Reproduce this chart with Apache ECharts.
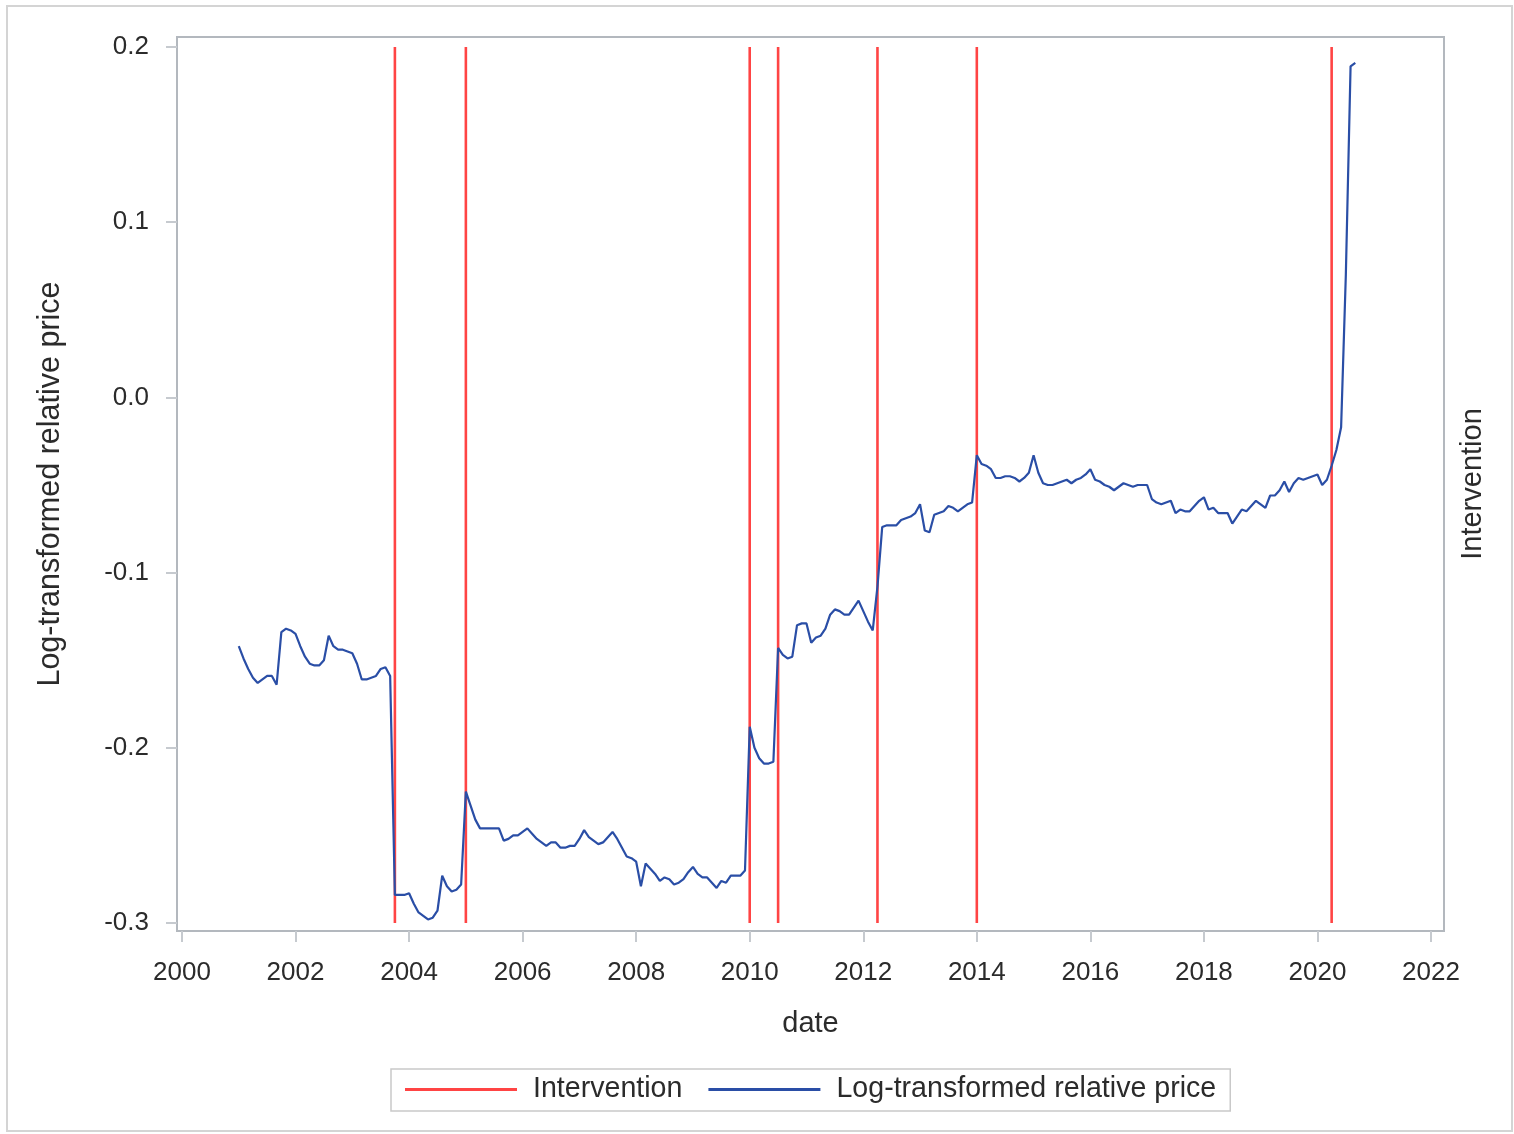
<!DOCTYPE html>
<html>
<head>
<meta charset="utf-8">
<title>Log-transformed relative price</title>
<script src="https://cdn.jsdelivr.net/npm/echarts@6/dist/echarts.min.js"></script>
<style>
  html, body { margin: 0; padding: 0; background: #ffffff; }
  #chart { width: 1514px; height: 1134px; }
</style>
</head>
<body>
<div id="chart"></div>
<script>
// ---- data -------------------------------------------------------------
const PRICE_NAME = 'Log-transformed relative price';
const INTERVENTION_NAME = 'Intervention';
const X_TITLE = 'date';

// monthly observations, first one is January 2001
const START_YEAR = 2001;
const logPrice = [
  // 2001
  -0.142, -0.149, -0.155, -0.160, -0.163, -0.161, -0.159, -0.159, -0.164, -0.134, -0.132, -0.133,
  // 2002
  -0.135, -0.142, -0.148, -0.152, -0.153, -0.153, -0.150, -0.136, -0.142, -0.144, -0.144, -0.145,
  // 2003
  -0.146, -0.152, -0.161, -0.161, -0.160, -0.159, -0.155, -0.154, -0.159, -0.284, -0.284, -0.284,
  // 2004
  -0.283, -0.289, -0.294, -0.296, -0.298, -0.297, -0.293, -0.273, -0.279, -0.282, -0.281, -0.278,
  // 2005
  -0.225, -0.233, -0.241, -0.246, -0.246, -0.246, -0.246, -0.246, -0.253, -0.252, -0.250, -0.250,
  // 2006
  -0.248, -0.246, -0.249, -0.252, -0.254, -0.256, -0.254, -0.254, -0.257, -0.257, -0.256, -0.256,
  // 2007
  -0.252, -0.247, -0.251, -0.253, -0.255, -0.254, -0.251, -0.248, -0.252, -0.257, -0.262, -0.263,
  // 2008
  -0.265, -0.279, -0.266, -0.269, -0.272, -0.276, -0.274, -0.275, -0.278, -0.277, -0.275, -0.271,
  // 2009
  -0.268, -0.272, -0.274, -0.274, -0.277, -0.280, -0.276, -0.277, -0.273, -0.273, -0.273, -0.270,
  // 2010
  -0.188, -0.200, -0.206, -0.209, -0.209, -0.208, -0.143, -0.147, -0.149, -0.148, -0.130, -0.129,
  // 2011
  -0.129, -0.140, -0.137, -0.136, -0.132, -0.124, -0.121, -0.122, -0.124, -0.124, -0.120, -0.116,
  // 2012
  -0.122, -0.128, -0.133, -0.108, -0.074, -0.073, -0.073, -0.073, -0.070, -0.069, -0.068, -0.066,
  // 2013
  -0.061, -0.076, -0.077, -0.067, -0.066, -0.065, -0.062, -0.063, -0.065, -0.063, -0.061, -0.060,
  // 2014
  -0.033, -0.038, -0.039, -0.041, -0.046, -0.046, -0.045, -0.045, -0.046, -0.048, -0.046, -0.043,
  // 2015
  -0.033, -0.043, -0.049, -0.050, -0.050, -0.049, -0.048, -0.047, -0.049, -0.047, -0.046, -0.044,
  // 2016
  -0.041, -0.047, -0.048, -0.050, -0.051, -0.053, -0.051, -0.049, -0.050, -0.051, -0.050, -0.050,
  // 2017
  -0.050, -0.058, -0.060, -0.061, -0.060, -0.059, -0.066, -0.064, -0.065, -0.065, -0.062, -0.059,
  // 2018
  -0.057, -0.064, -0.063, -0.066, -0.066, -0.066, -0.072, -0.068, -0.064, -0.065, -0.062, -0.059,
  // 2019
  -0.061, -0.063, -0.056, -0.056, -0.053, -0.048, -0.054, -0.049, -0.046, -0.047, -0.046, -0.045,
  // 2020
  -0.044, -0.050, -0.047, -0.039, -0.030, -0.017, 0.070, 0.189, 0.191
];

// months in which an intervention took place
const interventionMonths = ['2003-10', '2005-01', '2010-01', '2010-07', '2012-04', '2014-01', '2020-04'];

// axis ticks
const xTicks = [2000, 2002, 2004, 2006, 2008, 2010, 2012, 2014, 2016, 2018, 2020, 2022];
const yTicks = [-0.3, -0.2, -0.1, 0.0, 0.1, 0.2];

// ---- build series -----------------------------------------------------
const monthToYear = s => {
  const [y, m] = s.split('-').map(Number);
  return y + (m - 1) / 12;
};

const priceData = logPrice.map((v, i) => [START_YEAR + i / 12, v]);

// each intervention is a vertical needle spanning the tick range,
// separated from the next one by an empty point
const yLow = yTicks[0];
const yHigh = yTicks[yTicks.length - 1];
const interventionData = [];
interventionMonths.forEach(s => {
  const x = monthToYear(s);
  interventionData.push([x, yLow], [x, yHigh], [x, '-']);
});

// ---- chart ------------------------------------------------------------
const FONT = "'Liberation Sans', Arial, sans-serif";
const TEXT = '#2b2b2b';
const FRAME = '#b3b8be';
const TICK = '#c6cacf';

const chart = echarts.init(document.getElementById('chart'), null, { renderer: 'canvas' });

chart.setOption({
  animation: false,
  backgroundColor: '#ffffff',
  textStyle: { fontFamily: FONT },
  grid: {
    left: 177, top: 37, width: 1267, height: 894,
    show: true, borderColor: FRAME, borderWidth: 2, backgroundColor: '#ffffff'
  },
  graphic: [{
    type: 'rect',
    silent: true,
    shape: { x: 7, y: 6, width: 1505, height: 1125 },
    style: { fill: null, stroke: '#d4d4d4', lineWidth: 2 },
    z: -1
  }],
  legend: {
    data: [INTERVENTION_NAME, PRICE_NAME],
    left: 391, top: 1069,
    orient: 'horizontal',
    icon: 'rect',
    itemWidth: 112, itemHeight: 3,
    itemGap: 26,
    padding: [6, 14, 7, 14],
    borderColor: '#c9c9c9', borderWidth: 1.5,
    formatter: name => '{g|}' + name,
    textStyle: {
      fontFamily: FONT, fontSize: 28.6, color: TEXT,
      rich: { g: { width: 11 } }
    }
  },
  xAxis: {
    type: 'value',
    min: 1999.912, max: 2022.229,
    name: X_TITLE,
    nameLocation: 'middle',
    nameGap: 78,
    nameTextStyle: { fontFamily: FONT, fontSize: 29, color: TEXT },
    axisLine: { show: false, onZero: false },
    axisTick: { show: true, customValues: xTicks, length: 11, lineStyle: { color: TICK, width: 2 } },
    axisLabel: {
      customValues: xTicks, margin: 29,
      fontFamily: FONT, fontSize: 26, color: TEXT,
      formatter: v => String(Math.round(v))
    },
    splitLine: { show: false }
  },
  yAxis: [{
    type: 'value',
    min: -0.30457, max: 0.20571,
    name: PRICE_NAME,
    nameLocation: 'middle',
    nameRotate: 90,
    nameGap: 111,
    nameTextStyle: { fontFamily: FONT, fontSize: 30.5, color: TEXT },
    axisLine: { show: false, onZero: false },
    axisTick: { show: true, customValues: yTicks, length: 11, lineStyle: { color: TICK, width: 2 } },
    axisLabel: {
      customValues: yTicks, margin: 28,
      fontFamily: FONT, fontSize: 26, color: TEXT,
      formatter: v => (Math.abs(v) < 1e-9 ? '0.0' : v.toFixed(1))
    },
    splitLine: { show: false }
  }, {
    type: 'value',
    position: 'right',
    min: -0.30457, max: 0.20571,
    name: INTERVENTION_NAME,
    nameLocation: 'middle',
    nameRotate: 90,
    nameGap: 14,
    nameTextStyle: { fontFamily: FONT, fontSize: 29, color: TEXT },
    axisLine: { show: false, onZero: false },
    axisTick: { show: false },
    axisLabel: { show: false },
    splitLine: { show: false }
  }],
  series: [{
    name: INTERVENTION_NAME,
    type: 'line',
    data: interventionData,
    showSymbol: false,
    symbol: 'none',
    connectNulls: false,
    color: '#ff4444',
    lineStyle: { color: '#ff4444', width: 2.6 },
    z: 2
  }, {
    name: PRICE_NAME,
    type: 'line',
    data: priceData,
    showSymbol: false,
    symbol: 'none',
    color: '#2a4ea6',
    lineStyle: { color: '#2a4ea6', width: 2.2 },
    z: 3
  }]
});
</script>
</body>
</html>
